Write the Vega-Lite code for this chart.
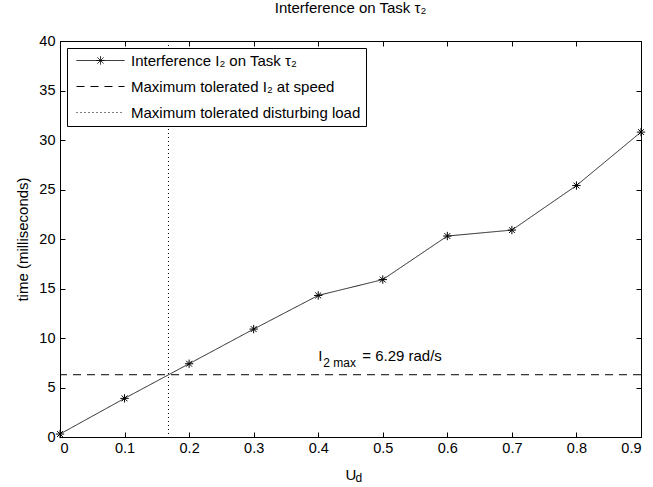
{
  "$schema": "https://vega.github.io/schema/vega-lite/v6.json",
  "width": 581,
  "height": 396,
  "autosize": "none",
  "padding": {"left": 60, "top": 41, "right": 12, "bottom": 50},
  "background": "white",
  "title": {"text": "Interference on Task τ₂", "fontSize": 15, "fontWeight": "normal", "font": "Liberation Sans", "color": "black", "offset": 17, "anchor": "middle"},
  "config": {
    "view": {"stroke": "black", "strokeWidth": 1},
    "font": "Liberation Sans",
    "axis": {"domainColor": "black", "tickColor": "black", "labelColor": "black", "titleColor": "black", "labelFontSize": 14.5, "titleFontSize": 15, "titleFontWeight": "normal", "grid": false, "tickSize": -5, "labelFont": "Liberation Sans", "titleFont": "Liberation Sans"},
    "legend": {"orient": "top-left", "offset": 7, "strokeColor": "black", "fillColor": "white", "padding": 5, "cornerRadius": 0, "symbolType": "M-0.6,0H9", "symbolSize": 100, "symbolStrokeWidth": 1, "symbolStrokeColor": "black", "symbolFillColor": "transparent", "symbolOpacity": 1, "labelFontSize": 15, "labelColor": "black", "labelFont": "Liberation Sans", "labelLimit": 0, "rowPadding": 10, "labelOffset": 44, "titlePadding": 0}
  },
  "layer": [
    {
      "layer": [
        {
          "data": {"values": [
            {"u": 0.0, "t": 0.3, "series": "Interference I₂ on Task τ₂"},
            {"u": 0.1, "t": 3.9, "series": "Interference I₂ on Task τ₂"},
            {"u": 0.2, "t": 7.4, "series": "Interference I₂ on Task τ₂"},
            {"u": 0.3, "t": 10.9, "series": "Interference I₂ on Task τ₂"},
            {"u": 0.4, "t": 14.3, "series": "Interference I₂ on Task τ₂"},
            {"u": 0.5, "t": 15.9, "series": "Interference I₂ on Task τ₂"},
            {"u": 0.6, "t": 20.3, "series": "Interference I₂ on Task τ₂"},
            {"u": 0.7, "t": 20.9, "series": "Interference I₂ on Task τ₂"},
            {"u": 0.8, "t": 25.4, "series": "Interference I₂ on Task τ₂"},
            {"u": 0.9, "t": 30.8, "series": "Interference I₂ on Task τ₂"}
          ]},
          "layer": [
            {
              "mark": {"type": "line", "strokeWidth": 1, "color": "#222222"},
              "encoding": {
                "x": {"field": "u", "type": "quantitative", "scale": {"domain": [0, 0.9], "nice": false, "zero": false},
                      "axis": {"orient": "bottom", "values": [0, 0.1, 0.2, 0.3, 0.4, 0.5, 0.6, 0.7, 0.8, 0.9], "format": "~g", "title": "U", "labelPadding": 9, "titleBaseline": "alphabetic", "titleY": 42}},
                "y": {"field": "t", "type": "quantitative", "scale": {"domain": [0, 40], "nice": false, "zero": false},
                      "axis": {"orient": "left", "values": [0, 5, 10, 15, 20, 25, 30, 35, 40], "title": "time (milliseconds)", "labelPadding": 10, "titleX": -30}},
                "strokeDash": {"field": "series", "type": "nominal",
                               "scale": {"domain": ["Interference I₂ on Task τ₂", "Maximum tolerated I₂ at speed", "Maximum tolerated disturbing load"], "range": [[1, 0], [8, 6], [1, 3]]},
                               "legend": {"title": null}}
              }
            },
            {
              "mark": {"type": "point", "shape": "M-1,0L1,0M0,-1L0,1M-0.7,-0.7L0.7,0.7M-0.7,0.7L0.7,-0.7", "filled": false, "stroke": "black", "strokeWidth": 1, "size": 70, "opacity": 1},
              "encoding": {
                "x": {"field": "u", "type": "quantitative"},
                "y": {"field": "t", "type": "quantitative"}
              }
            },
            {
              "mark": {"type": "point", "filled": false, "stroke": "black", "strokeWidth": 1, "opacity": 0},
              "encoding": {
                "shape": {"field": "series", "type": "nominal",
                          "scale": {"domain": ["Interference I₂ on Task τ₂", "Maximum tolerated I₂ at speed", "Maximum tolerated disturbing load"],
                                    "range": ["M-0.6,0H9M3.36,0H5.04M4.2,-0.84V0.84M3.6,-0.6L4.8,0.6M3.6,0.6L4.8,-0.6", "M-0.6,0H9", "M-0.6,0H9"]},
                          "legend": {"title": null}}
              }
            }
          ]
        },
        {
          "data": {"values": [{"t": 6.29, "series": "Maximum tolerated I₂ at speed"}]},
          "mark": {"type": "rule", "strokeWidth": 1, "color": "black"},
          "encoding": {
            "y": {"field": "t", "type": "quantitative"},
            "strokeDash": {"field": "series", "type": "nominal"}
          }
        },
        {
          "data": {"values": [{"u": 0.168, "series": "Maximum tolerated disturbing load"}]},
          "mark": {"type": "rule", "strokeWidth": 1, "color": "black"},
          "encoding": {
            "x": {"field": "u", "type": "quantitative"},
            "strokeDash": {"field": "series", "type": "nominal"}
          }
        },
        {
          "data": {"values": [{"u": 0.4, "t": 7.7, "label": "I"}]},
          "mark": {"type": "text", "align": "left", "baseline": "alphabetic", "fontSize": 15, "color": "black"},
          "encoding": {
            "x": {"field": "u", "type": "quantitative"},
            "y": {"field": "t", "type": "quantitative"},
            "text": {"field": "label"}
          }
        },
        {
          "data": {"values": [{"u": 0.4, "t": 7.7, "label": "2 max"}]},
          "mark": {"type": "text", "align": "left", "baseline": "alphabetic", "fontSize": 12, "color": "black", "dx": 5, "dy": 6},
          "encoding": {
            "x": {"field": "u", "type": "quantitative"},
            "y": {"field": "t", "type": "quantitative"},
            "text": {"field": "label"}
          }
        },
        {
          "data": {"values": [{"u": 0.4, "t": 7.7, "label": "= 6.29 rad/s"}]},
          "mark": {"type": "text", "align": "left", "baseline": "alphabetic", "fontSize": 15, "color": "black", "dx": 44},
          "encoding": {
            "x": {"field": "u", "type": "quantitative"},
            "y": {"field": "t", "type": "quantitative"},
            "text": {"field": "label"}
          }
        },
        {
          "data": {"values": [{"u": 0.45, "t": -4.5, "label": "d"}]},
          "mark": {"type": "text", "align": "left", "baseline": "alphabetic", "fontSize": 12, "color": "black", "dx": 5},
          "encoding": {
            "x": {"field": "u", "type": "quantitative"},
            "y": {"field": "t", "type": "quantitative"},
            "text": {"field": "label"}
          }
        }
      ]
    },
    {
      "data": {"values": [{"u": 0, "t": 0}, {"u": 0.9, "t": 40}]},
      "mark": {"type": "point", "opacity": 0},
      "encoding": {
        "x": {"field": "u", "type": "quantitative", "axis": {"orient": "top", "values": [0, 0.1, 0.2, 0.3, 0.4, 0.5, 0.6, 0.7, 0.8, 0.9], "labels": false, "title": null}},
        "y": {"field": "t", "type": "quantitative", "axis": {"orient": "right", "values": [0, 5, 10, 15, 20, 25, 30, 35, 40], "labels": false, "title": null}}
      }
    }
  ],
  "resolve": {"axis": {"x": "independent", "y": "independent"}}
}
